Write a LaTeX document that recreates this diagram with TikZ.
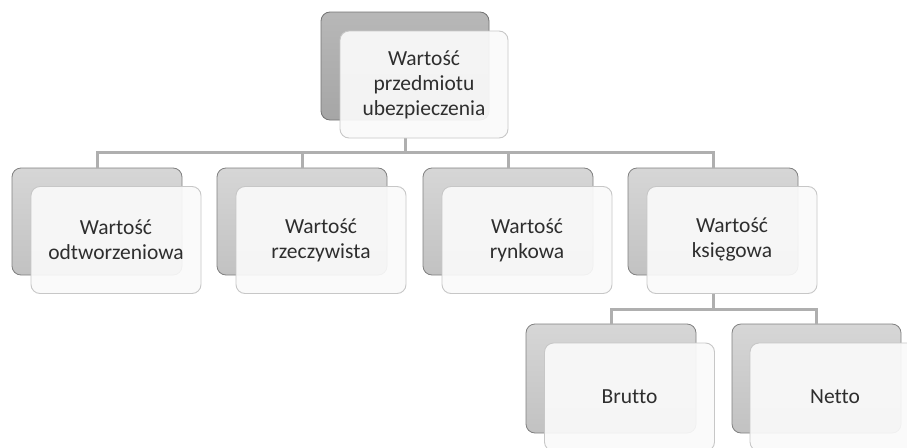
\documentclass[tikz,border=0pt]{standalone}
\usepackage{fontspec}
\setmainfont{Carlito}[Ligatures=NoCommon]
\definecolor{txt}{HTML}{2E2E2E}
\definecolor{conn}{HTML}{AFAFAF}
\begin{document}
\begin{tikzpicture}[x=1pt,y=-1pt,
  backA/.style={draw=black!55, line width=0.8pt, rounded corners=9pt, top color=black!28, bottom color=black!35},
  backB/.style={draw=black!50, line width=0.8pt, rounded corners=9pt, top color=black!16, bottom color=black!24},
  front/.style={draw=black!22, line width=0.9pt, rounded corners=9pt, fill=black!2, fill opacity=0.92, text opacity=1, text=txt, align=center, font=\fontsize{21.5}{25}\selectfont},
  link/.style={draw=conn, line width=3pt}]
\useasboundingbox (0,0) rectangle (907,447);
\clip (0,0) rectangle (907,447);
% back boxes
\path[backA] (321,12) rectangle (489,120);
\path[backB] (12,168) rectangle (182,275);
\path[backB] (217,168) rectangle (387,275);
\path[backB] (423,168) rectangle (593,275);
\path[backB] (628,168) rectangle (798,275);
\path[backB] (526,324) rectangle (696,433);
\path[backB] (732,324) rectangle (901,433);
% connectors
\coordinate (t0) at (405,138);
\coordinate (h0) at (405,152);
\coordinate (c1) at (97,168);
\coordinate (c2) at (302,168);
\coordinate (c3) at (508,168);
\coordinate (c4) at (713,168);
\coordinate (k0) at (713,294);
\coordinate (h1) at (713,309);
\coordinate (c5) at (611,324);
\coordinate (c6) at (816,324);
\draw[link] (t0) -- (h0);
\draw[link] (c1) |- (h0) -| (c4);
\draw[link] (c2) -- (c2 |- h0);
\draw[link] (c3) -- (c3 |- h0);
\draw[link] (k0) -- (h1);
\draw[link] (c5) |- (h1) -| (c6);
% front boxes
\node[front, minimum width=168pt, minimum height=107pt] (top) at (424,84.5) {Wartość\\przedmiotu\\ubezpieczenia};
\node[front, minimum width=170pt, minimum height=107pt] (n1) at (116,240) {Wartość\\odtworzeniowa};
\node[front, minimum width=170pt, minimum height=107pt] (n2) at (321,240) {Wartość\\rzeczywista};
\node[front, minimum width=170pt, minimum height=107pt] (n3) at (527,240) {Wartość\\rynkowa};
\node[front, minimum width=170pt, minimum height=107pt] (n4) at (732,240) {Wartość\\księgowa};
\node[front, minimum width=170pt, minimum height=108pt] (n5) at (629.5,397) {Brutto};
\node[front, minimum width=170pt, minimum height=108pt] (n6) at (835,397) {Netto};
\end{tikzpicture}
\end{document}
